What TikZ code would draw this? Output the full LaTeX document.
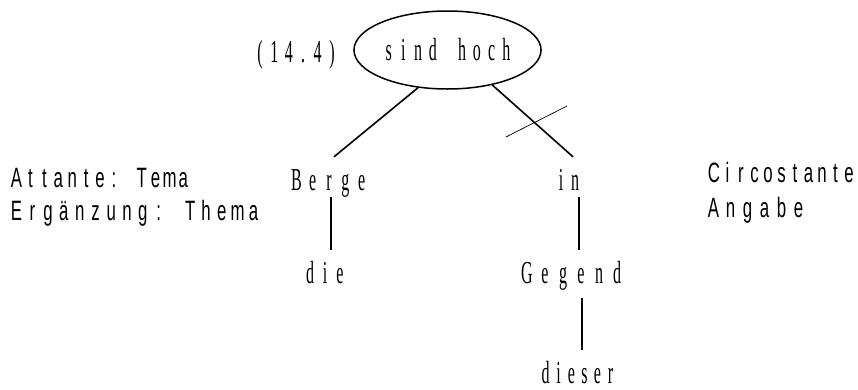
\documentclass[tikz,border=0pt]{standalone}
\usepackage{fontspec}
\usepackage{graphicx}
\usetikzlibrary{shapes}
\newfontfamily\treefont{Liberation Serif}
\newfontfamily\sidefont{Liberation Sans}
\newcommand\glyphScale{0.5}
\makeatletter
\DeclareRobustCommand\spreadWord[2]{\@tfor\spread@ch:=#2\do{\makebox[#1]{\scalebox{\glyphScale}[1]{\spread@ch}}}}
\makeatother

\begin{document}
\begin{tikzpicture}[x = 1pt, y = -1pt]
	\tikzstyle{wordStyle}=[anchor = base, inner sep = 0pt, text height = 33pt, text depth = 7pt, font = \fontsize{32}{36}\treefont\renewcommand\glyphScale{0.5}]
	\tikzstyle{headStyle}=[shape = ellipse, draw, line width = 1.5pt, minimum width = 165pt, minimum height = 78pt, inner sep = 0pt, font = \fontsize{32}{36}\treefont\renewcommand\glyphScale{0.5}]
	\tikzstyle{sideStyle}=[anchor = base, inner sep = 0pt, font = \fontsize{28}{32}\sidefont\renewcommand\glyphScale{0.6}]
	\tikzstyle{edgeStyle}=[line width = 1.6pt]
	\tikzstyle{stemStyle}=[line width = 2.6pt]
	\tikzstyle{cutStyle}=[line width = 0.7pt]
	\useasboundingbox (0,0) rectangle (858,389);
	\node[headStyle] (sindHoch) at (447.5, 50) {\spreadWord{14.7pt}{sind~hoch}};
	\node[wordStyle] (nr) at (296, 62) {\spreadWord{14.4pt}{(14.4)}};
	\node[wordStyle] (Berge) at (329, 190) {\spreadWord{16.3pt}{Berge}};
	\node[wordStyle] (in) at (568, 190) {\spreadWord{14pt}{in}};
	\node[wordStyle] (die) at (325, 283) {\spreadWord{15pt}{die}};
	\node[wordStyle] (Gegend) at (572, 283) {\spreadWord{18pt}{Gegend}};
	\node[wordStyle, text depth = 0pt] (dieser) at (578, 383) {\spreadWord{13pt}{dieser}};
	\node[sideStyle] (attLabel) at (100, 187) {\spreadWord{13.9pt}{Attante:~Tema}};
	\node[sideStyle] (ergLabel) at (135, 220) {\spreadWord{15.8pt}{Ergänzung:~Thema}};
	\node[sideStyle] (circLabel) at (781.5, 182) {\spreadWord{13.5pt}{Circostante}};
	\node[sideStyle] (angLabel) at (756, 217) {\spreadWord{17pt}{Angabe}};
	\coordinate (cut) at (536.5, 121.5);
	\draw[edgeStyle] (sindHoch.232) -- ([xshift = 5pt]Berge.north);
	\draw[edgeStyle] (sindHoch.322) -- ([xshift = 5pt]in.north);
	\draw[cutStyle] ([shift = {(-30.5, 15.5)}]cut) -- ([shift = {(30.5, -15.5)}]cut);
	\draw[stemStyle] ([xshift = 2pt]Berge.south) -- ([xshift = 2pt]Berge.south |- die.north);
	\draw[stemStyle] ([xshift = 11pt]in.south) -- ([xshift = 11pt]in.south |- Gegend.north);
	\draw[stemStyle] ([xshift = 10pt, yshift = -8pt]Gegend.south) -- ([xshift = 10pt]Gegend.south |- dieser.north);
\end{tikzpicture}
\end{document}
